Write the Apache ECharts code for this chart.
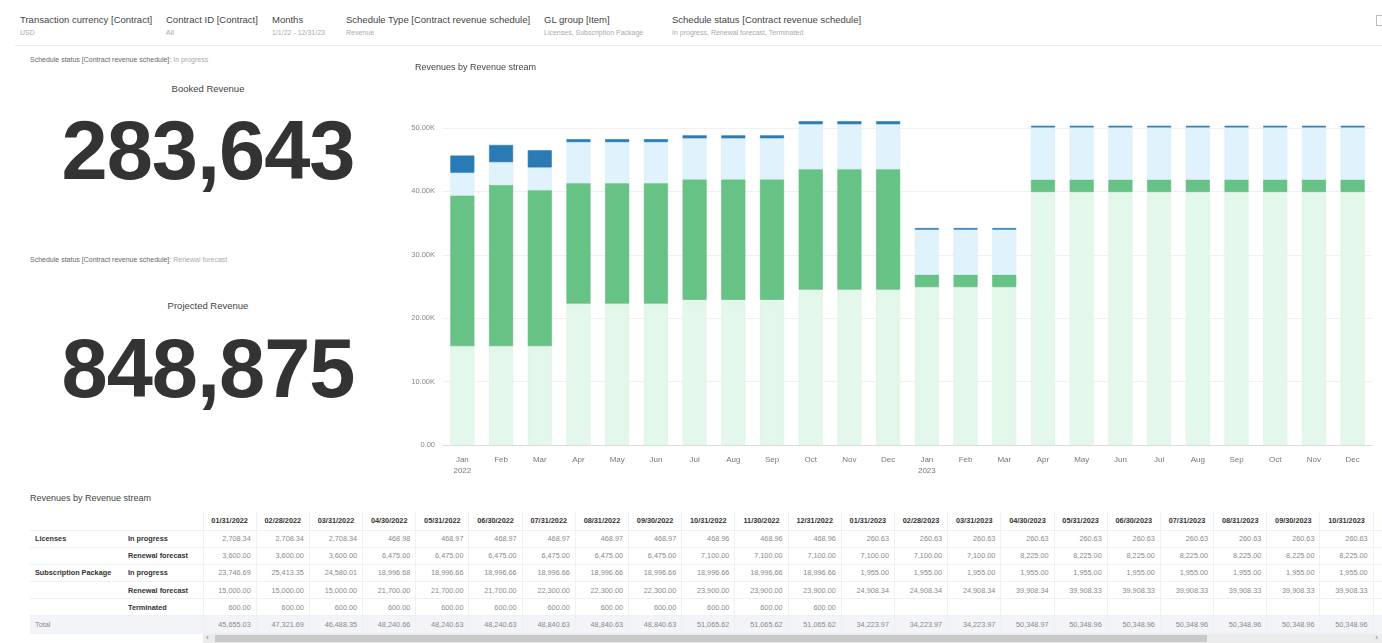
<!DOCTYPE html>
<html>
<head>
<meta charset="utf-8">
<script src="https://cdn.jsdelivr.net/npm/echarts@6/dist/echarts.min.js"></script>
<style>
  body { margin: 0; background: #fff; font-family: "Liberation Sans", Arial, sans-serif; color: #333; }
  #page { position: relative; width: 1382px; height: 643px; overflow: hidden; }
  .flt { position: absolute; top: 14px; }
  .flt .k { font-size: 9.5px; color: #444; white-space: nowrap; }
  .flt .v { font-size: 7px; color: #aaa; margin-top: 4px; white-space: nowrap; }
  #sep { position: absolute; left: 15px; right: 0; top: 45px; height: 1px; background: #e6ebf0; }
  .status { position: absolute; left: 30px; font-size: 7px; color: #666; white-space: nowrap; }
  .status span { color: #aaa; }
  .kpiTitle { position: absolute; left: 0; width: 416px; text-align: center; font-size: 9.5px; color: #444; }
  .kpi { position: absolute; left: 0; width: 416px; text-align: center; font-weight: bold; font-size: 83px; color: #333; letter-spacing: -1px; line-height: 1; }
  #chart { position: absolute; left: 390px; top: 55px; width: 992px; height: 430px; }
  #tblTitle { position: absolute; left: 30px; top: 493px; font-size: 9px; color: #444; }
  #tblWrap { position: absolute; left: 30px; top: 512px; width: 1352px; height: 122px; overflow: hidden; }
  table { border-collapse: collapse; table-layout: fixed; font-size: 7.3px; }
  td, th { height: 16.2px; padding: 0 5px; white-space: nowrap; overflow: hidden; border-bottom: 1px solid #eef1f4; }
  th { font-weight: bold; color: #333; text-align: center; height: 17.5px; border-left: 1px solid #eef1f4; }
  th.blank { border-left: none; }
  td.num { text-align: right; color: #8a8a8a; border-left: 1px solid #eef1f4; }
  td.g { font-weight: bold; color: #333; }
  td.s { font-weight: bold; color: #333; }
  tr.total td { background: #f2f4f7; color: #8a8a8a; font-weight: normal; }
  #scroll { position: absolute; left: 203px; top: 634px; width: 1179px; height: 9px; background: #ececec; }
  #thumb { position: absolute; left: 12px; top: 1px; width: 992px; height: 7px; background: #c9c9c9; }
  #scroll .a { position: absolute; top: -1px; font-size: 8px; color: #777; }
  #icon { position: absolute; left: 1376px; top: 15px; width: 5px; height: 9px; border: 1px solid #bbb; border-right: none; }
</style>
</head>
<body>
<div id="page">
  <div class="flt" style="left:20px"><div class="k">Transaction currency [Contract]</div><div class="v">USD</div></div>
  <div class="flt" style="left:166px"><div class="k">Contract ID [Contract]</div><div class="v">All</div></div>
  <div class="flt" style="left:272px"><div class="k">Months</div><div class="v">1/1/22 - 12/31/23</div></div>
  <div class="flt" style="left:346px"><div class="k">Schedule Type [Contract revenue schedule]</div><div class="v">Revenue</div></div>
  <div class="flt" style="left:544px"><div class="k">GL group [Item]</div><div class="v">Licenses, Subscription Package</div></div>
  <div class="flt" style="left:672px"><div class="k">Schedule status [Contract revenue schedule]</div><div class="v">In progress, Renewal forecast, Terminated</div></div>
  <div id="icon"></div>
  <div id="sep"></div>

  <div class="status" style="top:56px">Schedule status [Contract revenue schedule]: <span>In progress</span></div>
  <div class="kpiTitle" style="top:83px">Booked Revenue</div>
  <div class="kpi" id="kpi1" style="top:109px"></div>

  <div class="status" style="top:256px">Schedule status [Contract revenue schedule]: <span>Renewal forecast</span></div>
  <div class="kpiTitle" style="top:300px">Projected Revenue</div>
  <div class="kpi" id="kpi2" style="top:327px"></div>

  <div id="chart"></div>

  <div id="tblTitle">Revenues by Revenue stream</div>
  <div id="tblWrap"><table id="tbl"></table></div>
  <div id="scroll"><span class="a" style="left:3px">&lsaquo;</span><div id="thumb"></div><span class="a" style="right:4px">&rsaquo;</span></div>
</div>

<script>
// month-end dates (table columns) and axis labels
const dates = ['01/31/2022','02/28/2022','03/31/2022','04/30/2022','05/31/2022','06/30/2022',
  '07/31/2022','08/31/2022','09/30/2022','10/31/2022','11/30/2022','12/31/2022',
  '01/31/2023','02/28/2023','03/31/2023','04/30/2023','05/31/2023','06/30/2023',
  '07/31/2023','08/31/2023','09/30/2023','10/31/2023','11/30/2023','12/31/2023'];
const monthLabels = ['Jan\n2022','Feb','Mar','Apr','May','Jun','Jul','Aug','Sep','Oct','Nov','Dec',
  'Jan\n2023','Feb','Mar','Apr','May','Jun','Jul','Aug','Sep','Oct','Nov','Dec'];

// Licenses
const licInProgress = [2708.34,2708.34,2708.34,468.98,468.97,468.97,468.97,468.97,468.97,468.96,468.96,468.96,
  260.63,260.63,260.63,260.63,260.63,260.63,260.63,260.63,260.63,260.63,260.63,260.63];
const licRenewal = [3600,3600,3600,6475,6475,6475,6475,6475,6475,7100,7100,7100,
  7100,7100,7100,8225,8225,8225,8225,8225,8225,8225,8225,8225];

// Subscription Package
const subInProgress = [23746.69,25413.35,24580.01,18996.68,18996.66,18996.66,18996.66,18996.66,18996.66,18996.66,18996.66,18996.66,
  1955,1955,1955,1955,1955,1955,1955,1955,1955,1955,1955,1955];
const subRenewal = [15000,15000,15000,21700,21700,21700,22300,22300,22300,23900,23900,23900,
  24908.34,24908.34,24908.34,39908.34,39908.33,39908.33,39908.33,39908.33,39908.33,39908.33,39908.33,39908.33];
const subTerminated = [600,600,600,600,600,600,600,600,600,600,600,600,
  null,null,null,null,null,null,null,null,null,null,null,null];

const totals = [45655.03,47321.69,46488.35,48240.66,48240.63,48240.63,48840.63,48840.63,48840.63,51065.62,51065.62,51065.62,
  34223.97,34223.97,34223.97,50348.97,50348.96,50348.96,50348.96,50348.96,50348.96,50348.96,50348.96,50348.96];

const bookedRevenue = 283643;
const projectedRevenue = 848875;

document.getElementById('kpi1').textContent = bookedRevenue.toLocaleString('en-US');
document.getElementById('kpi2').textContent = projectedRevenue.toLocaleString('en-US');

// table
const fmt = v => (v === null || v === undefined) ? '' :
  v.toLocaleString('en-US', { minimumFractionDigits: 2, maximumFractionDigits: 2 });
const rows = [
  ['Licenses', 'In progress', licInProgress],
  ['', 'Renewal forecast', licRenewal],
  ['Subscription Package', 'In progress', subInProgress],
  ['', 'Renewal forecast', subRenewal],
  ['', 'Terminated', subTerminated]
];
let html = '<colgroup><col style="width:93px"><col style="width:80px">' +
  dates.map(() => '<col style="width:53.2px">').join('') + '</colgroup>';
html += '<tr><th class="blank"></th><th class="blank"></th>' + dates.map(d => '<th>' + d + '</th>').join('') + '</tr>';
rows.forEach(r => {
  html += '<tr><td class="g">' + r[0] + '</td><td class="s">' + r[1] + '</td>' +
    r[2].map(v => '<td class="num">' + fmt(v) + '</td>').join('') + '</tr>';
});
html += '<tr class="total"><td>Total</td><td></td>' + totals.map(v => '<td class="num">' + fmt(v) + '</td>').join('') + '</tr>';
const tbl = document.getElementById('tbl');
tbl.innerHTML = html;
tbl.style.width = (93 + 80 + 53.2 * dates.length) + 'px';

// chart
const chart = echarts.init(document.getElementById('chart'));

const barStyle = (color, border) => ({ color: color, borderColor: border, borderWidth: 0.6 });

const options = {
  animation: false,
  title: {
    text: 'Revenues by Revenue stream',
    left: 20, top: 3,
    textStyle: { fontSize: 9, fontWeight: 'normal', color: '#444', fontFamily: 'Liberation Sans' }
  },
  grid: { left: 53, right: 10, top: 73, bottom: 40 },
  xAxis: {
    type: 'category',
    data: monthLabels,
    axisLine: { lineStyle: { color: '#dcdcdc' } },
    axisTick: { show: false },
    axisLabel: { color: '#777', fontSize: 8, fontFamily: 'Liberation Sans', lineHeight: 11, margin: 9 }
  },
  yAxis: {
    type: 'value',
    min: 0, max: 50000, interval: 10000,
    axisLine: { show: false },
    axisTick: { show: false },
    splitLine: { lineStyle: { color: '#eef0f3' } },
    axisLabel: {
      color: '#888', fontSize: 7.5, fontFamily: 'Liberation Sans', margin: 8,
      formatter: v => v === 0 ? '0.00' : (v / 1000).toFixed(2) + 'K'
    }
  },
  series: [
    { name: 'Subscription Package - Renewal forecast', type: 'bar', stack: 'rev', data: subRenewal,
      barWidth: 24, clip: false, itemStyle: barStyle('#e3f8ea', '#d6f1df') },
    { name: 'Subscription Package - Terminated', type: 'bar', stack: 'rev', data: subTerminated,
      clip: false, itemStyle: barStyle('#e3f8ea', '#d6f1df') },
    { name: 'Subscription Package - In progress', type: 'bar', stack: 'rev', data: subInProgress,
      clip: false, itemStyle: barStyle('#67c286', '#5db97c') },
    { name: 'Licenses - Renewal forecast', type: 'bar', stack: 'rev', data: licRenewal,
      clip: false, itemStyle: barStyle('#e0f3fd', '#d3ebf7') },
    { name: 'Licenses - In progress', type: 'bar', stack: 'rev', data: licInProgress,
      clip: false, itemStyle: barStyle('#2a7bb5', '#2a7bb5') }
  ]
};

chart.setOption(options);
</script>
</body>
</html>
